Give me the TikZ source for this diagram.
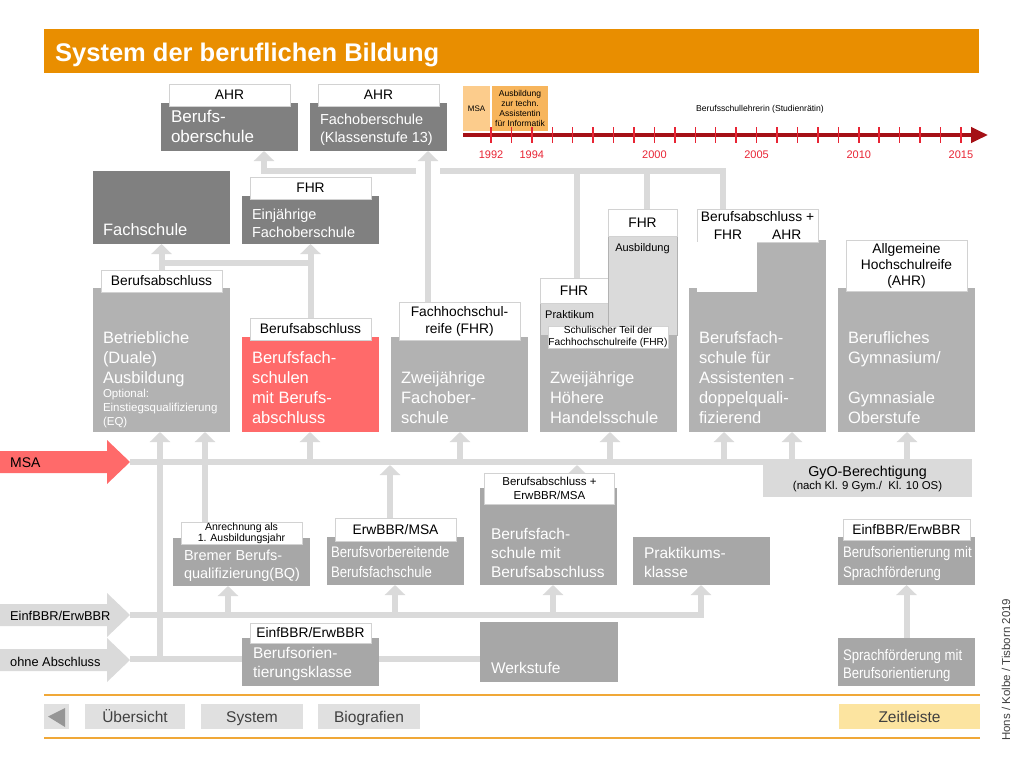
\documentclass[tikz,border=0pt]{standalone}
\usepackage{fontspec}
\setmainfont{Liberation Sans}
\newfontfamily\narrowfont{Liberation Sans}[FakeStretch=0.86]
\usetikzlibrary{arrows.meta,calc,positioning}
\definecolor{TitleClr}{RGB}{233,142,0}
\definecolor{DarkClr}{RGB}{128,128,128}
\definecolor{MidClr}{RGB}{178,178,178}
\definecolor{LowClr}{RGB}{167,167,167}
\definecolor{LineClr}{RGB}{218,218,218}
\definecolor{EdgeClr}{RGB}{210,210,210}
\definecolor{RedClr}{RGB}{255,106,106}
\definecolor{AxisClr}{RGB}{165,16,22}
\definecolor{TickClr}{RGB}{232,36,52}
\definecolor{MsaClr}{RGB}{252,204,140}
\definecolor{AusbClr}{RGB}{247,181,92}
\definecolor{NavClr}{RGB}{224,224,224}
\definecolor{ZeitClr}{RGB}{252,228,160}
\definecolor{RuleClr}{RGB}{240,168,56}
\definecolor{TriClr}{RGB}{150,150,150}
\definecolor{TxtClr}{RGB}{64,64,64}
\newcommand{\fsz}[2]{\fontsize{#1}{#2}\selectfont}
\pgfdeclarelayer{bg}
\pgfsetlayers{bg,main}

\begin{document}
\begin{tikzpicture}[x=1pt,y=-1pt,
  blk/.style={anchor=north west,inner sep=0pt,outer sep=0pt,minimum width=137pt,fill=#1},
  lbl/.style={fill=white,draw=EdgeClr,line width=0.8pt,inner sep=0pt,outer sep=0pt,
    minimum width=121pt,minimum height=22pt,align=center,font=\fsz{13.8}{16}},
  btxt/.style={inner sep=0pt,outer sep=0pt,align=left,text=white,font=\fsz{16.5}{20},
    execute at end node=\strut},
  gline/.style={draw=LineClr,line width=6pt},
  conn/.style={gline,-{Triangle[width=20pt,length=10pt]}},
  navbtn/.style={fill=NavClr,inner sep=0pt,outer sep=0pt,minimum height=25pt,
    text height=13.5pt,text depth=2pt,text=TxtClr,font=\fsz{15.5}{18}}]
\useasboundingbox (0,0) rectangle (1024,768);

% title
\node[blk=TitleClr,minimum width=935pt,minimum height=44pt] (bar) at (44,29) {};
\node[anchor=base west,inner sep=0pt,text=white,font=\bfseries\fsz{25.5}{30}] (title) at (55,62) {System der beruflichen Bildung};

% top row
\node[blk=DarkClr,minimum height=48pt] (bos) at (161,103) {};
\node[lbl,above=-3pt of bos] (bosL) {AHR};
\node[btxt,font=\fsz{17}{20},above right=3pt and 10pt of bos.south west] (bosT) {Berufs-\\oberschule};
\node[blk=DarkClr,minimum height=48pt] (fos) at (310,103) {};
\node[lbl,above=-3pt of fos] (fosL) {AHR};
\node[btxt,font=\fsz{14.5}{18},above right=3.6pt and 10pt of fos.south west] (fosT) {Fachoberschule\\(Klassenstufe 13)};

\node[blk=DarkClr,minimum height=73pt] (fs) at (93,171) {};
\node[btxt,above right=3pt and 10pt of fs.south west] (fsT) {Fachschule};
\node[blk=DarkClr,minimum height=48pt] (ejf) at (242,196) {};
\node[lbl,above=-3pt of ejf] (ejfL) {FHR};
\node[btxt,font=\fsz{14.5}{18},above right=1.6pt and 10pt of ejf.south west] (ejfT) {Einjährige\\Fachoberschule};

% main row
\node[blk=MidClr,minimum height=144pt] (dual) at (93,288) {};
\node[lbl,above=-4pt of dual] (dualL) {Berufsabschluss};
\node[btxt,above right=43pt and 10pt of dual.south west] (dualT) {Betriebliche\\(Duale)\\Ausbildung};
\node[btxt,font=\fsz{11.5}{14},above right=2.8pt and 10pt of dual.south west] (dualS) {Optional:\\Einstiegsqualifizierung\\(EQ)};

\node[blk=RedClr,minimum height=95pt] (bfs) at (242,337) {};
\node[lbl,above=-3pt of bfs] (bfsL) {Berufsabschluss};
\node[btxt,above right=3pt and 10pt of bfs.south west] (bfsT) {Berufsfach-\\schulen\\mit Berufs-\\abschluss};

\node[blk=MidClr,minimum height=95pt] (zfos) at (391,337) {};
\node[lbl,minimum height=38pt,font=\fsz{13.8}{17},above=-3pt of zfos] (zfosL) {Fachhochschul-\\reife (FHR)};
\node[btxt,above right=3pt and 10pt of zfos.south west] (zfosT) {Zweijährige\\Fachober-\\schule};

\node[blk=MidClr,minimum height=97pt] (hhs) at (540,335) {};
\node[blk=LineClr,draw=EdgeClr!85!black,line width=0.6pt,minimum width=68pt,minimum height=32pt] (prak) at (540,303) {};
\node[lbl,minimum width=68pt,minimum height=25pt,above=0pt of prak] (prakL) {FHR};
\node[inner sep=0pt,anchor=north west,font=\fsz{11}{13},below right=7pt and 5pt of prak.north west] (prakT) {Praktikum};
\node[blk=LineClr,draw=EdgeClr!85!black,line width=0.6pt,minimum width=69pt,minimum height=99pt] (ausb) at (608,236) {};
\node[lbl,minimum width=69pt,minimum height=27pt,above=0pt of ausb] (ausbL) {FHR};
\node[inner sep=0pt,font=\fsz{11}{13},below=7pt of ausb.north] (ausbT) {Ausbildung};
\node[lbl,minimum width=120pt,font=\fsz{10.2}{11.5}] (hhsL) at ($(prak.south east)+(0,2)$) {Schulischer Teil der\\Fachhochschulreife (FHR)};
\node[btxt,above right=3pt and 10pt of hhs.south west] (hhsT) {Zweijährige\\Höhere\\Handelsschule};

\node[blk=MidClr,minimum height=144pt] (asst) at (689,288) {};
\node[blk=MidClr,minimum width=69pt,minimum height=49pt] (asstR) at (757,240) {};
\node[lbl,anchor=north west,minimum height=33pt,font=\fsz{13.8}{18}] (asstL) at (697,209) {Berufsabschluss +\\FHR\hspace{30pt}AHR};
\node[anchor=north west,fill=white,inner sep=0pt,minimum width=60pt,minimum height=50pt] (asstW) at (697,241.5) {};
\node[btxt,above right=3pt and 10pt of asst.south west] (asstT) {Berufsfach-\\schule für\\Assistenten -\\doppelquali-\\fizierend};

\node[blk=MidClr,minimum height=144pt] (gym) at (838,288) {};
\node[lbl,minimum height=51pt,above=-3pt of gym] (gymL) {Allgemeine\\Hochschulreife\\(AHR)};
\node[btxt,above right=3pt and 10pt of gym.south west] (gymT) {Berufliches\\Gymnasium/\\[20pt]Gymnasiale\\Oberstufe};

% entry arrows
\fill[RedClr] (0,451) -- (107,451) -- (107,440) -- (130,462) -- (107,484) -- (107,473) -- (0,473) -- cycle;
\node[anchor=west,inner sep=0pt,font=\fsz{14}{16}] (msaT) at (10,463) {MSA};
\fill[LineClr] (0,604) -- (107,604) -- (107,593) -- (130,615) -- (107,637) -- (107,626) -- (0,626) -- cycle;
\node[anchor=west,inner sep=0pt,font=\fsz{12.8}{15}] (einfT) at (10,616) {EinfBBR/ErwBBR};
\fill[LineClr] (0,649) -- (107,649) -- (107,638) -- (130,660) -- (107,682) -- (107,671) -- (0,671) -- cycle;
\node[anchor=west,inner sep=0pt,font=\fsz{12.8}{15}] (ohneT) at (10,662) {ohne Abschluss};
\coordinate (msaTip) at (130,462);
\coordinate (msaEnd) at (972,462);
\coordinate (einfTip) at (130,615);
\coordinate (einfEnd) at (701,615);
\coordinate (ohneTip) at (130,659);

\node[blk=LineClr,minimum width=209pt,minimum height=35pt] (gyo) at (763,462) {};
\node[inner sep=0pt,font=\fsz{14.3}{16},below=4pt of gyo.north] (gyoT) {GyO-Berechtigung};
\node[inner sep=0pt,font=\fsz{11.4}{13},below=1pt of gyoT] (gyoS) {(nach Kl. 9 Gym./\ \ Kl. 10 OS)};

% lower rows
\node[blk=LowClr,minimum height=48pt] (bq) at (173,538) {};
\node[lbl,minimum height=20pt,font=\fsz{10.5}{11.5},above=-6pt of bq] (bqL) {Anrechnung als\\1. Ausbildungsjahr};
\node[btxt,font=\fsz{14.5}{18},above right=2.6pt and 11pt of bq.south west] (bqT) {Bremer Berufs-\\qualifizierung(BQ)};

\node[blk=LowClr,minimum height=48pt] (bvb) at (327,537) {};
\node[lbl,minimum height=23pt,above=-4pt of bvb] (bvbL) {ErwBBR/MSA};
\node[btxt,font=\narrowfont\fsz{15.3}{19.5},above right=2.15pt and 4pt of bvb.south west] (bvbT) {Berufsvorbereitende\\Berufsfachschule};

\node[blk=LowClr,minimum height=97pt] (bfsba) at (480,488) {};
\node[lbl,anchor=north,minimum width=130pt,minimum height=31pt,font=\fsz{11.5}{14}] (bfsbaL) at ($(bfsba.north)+(1,-15)$) {Berufsabschluss +\\ErwBBR/MSA};
\node[btxt,font=\fsz{15.5}{19},above right=2.3pt and 11pt of bfsba.south west] (bfsbaT) {Berufsfach-\\schule mit\\Berufsabschluss};

\node[blk=LowClr,minimum height=48pt] (pk) at (633,537) {};
\node[btxt,font=\fsz{15.5}{19},above right=2.3pt and 11pt of pk.south west] (pkT) {Praktikums-\\klasse};

\node[blk=LowClr,minimum height=48pt] (bo) at (838,537) {};
\node[lbl,minimum width=127pt,minimum height=21pt,above=-3pt of bo] (boL) {EinfBBR/ErwBBR};
\node[btxt,font=\narrowfont\fsz{15.3}{19.5},above right=2.15pt and 5pt of bo.south west] (boT) {Berufsorientierung mit\\Sprachförderung};

\node[blk=LowClr,minimum height=48pt] (spr) at (838,638) {};
\node[btxt,font=\narrowfont\fsz{15.3}{18},above right=2.6pt and 5pt of spr.south west] (sprT) {Sprachförderung mit\\Berufsorientierung};

\node[blk=LowClr,minimum width=138pt,minimum height=60pt] (werk) at (480,622) {};
\node[btxt,font=\fsz{15.5}{19},above right=3.3pt and 11pt of werk.south west] (werkT) {Werkstufe};

\node[blk=LowClr,minimum height=48pt] (bok) at (242,638) {};
\node[lbl,minimum height=20pt,above=-5pt of bok] (bokL) {EinfBBR/ErwBBR};
\node[btxt,font=\fsz{15.5}{19},above right=3.3pt and 11pt of bok.south west] (bokT) {Berufsorien-\\tierungsklasse};

% connectors
\begin{pgfonlayer}{bg}
\coordinate (h1) at (264,171);
\coordinate (h2) at (723,171);
\draw[conn] (asstL.north -| h2) -- (h2) -- (h1) -- (h1 |- bos.south);
\draw[gline] (577,171) -- (577,0 |- prakL.north);
\draw[gline] (647,171) -- (647,0 |- ausbL.north);
\draw[white,line width=24pt] (428,163) -- (428,179);
\draw[conn] (428,0 |- zfosL.north) -- (428,0 |- fos.south);
\draw[conn] (dualL.north) -- (dualL.north |- fs.south);
\draw[gline] (dualL.north |- 0,263) -- (bfsL.north |- 0,263);
\draw[conn] (bfsL.north) -- (bfsL.north |- ejf.south);

\draw[gline] (msaTip) -- (msaEnd);
\foreach \x/\nd in {310/bfs,460/zfos,610/hhs,724/asst,792/asst,907/gym}
  \draw[conn] (\x,462) -- (\x,462 |- \nd.south);
\draw[conn] (205,0 |- bqL.north) -- (205,0 |- dual.south);
\draw[conn] (390,0 |- bvbL.north) -- (390,465);
\draw[conn] (577,482) -- (577,465);

\draw[conn] (einfTip) -- (einfEnd) -- (einfEnd |- pk.south);
\foreach \x/\nd in {228/bq,395/bvb,553/bfsba}
  \draw[conn] (\x,615) -- (\x,615 |- \nd.south);
\draw[gline] (ohneTip) -- (ohneTip -| werk.west);
\draw[conn] (160,659) -- (160,0 |- dual.south);
\draw[conn] (spr.north) -- (bo.south);
\end{pgfonlayer}

% timeline
\node[blk=MsaClr,minimum width=27pt,minimum height=45pt,font=\fsz{8}{10}] (tlMsa) at (463,86) {};
\node[inner sep=0pt,font=\fsz{8}{10}] at (tlMsa.center) (tlMsaT) {MSA};
\node[blk=AusbClr,minimum width=56pt,minimum height=45pt] (tlAusb) at (492,86) {};
\node[inner sep=0pt,align=center,font=\fsz{8.5}{10.3}] (tlAusbT) at (tlAusb.center) {Ausbildung\\zur techn.\\Assistentin\\für Informatik};
\node[inner sep=0pt,font=\fsz{8.6}{10}] (tlJob) at (760,109) {Berufsschullehrerin (Studienrätin)};
\coordinate (tl0) at (463,135);
\coordinate (tl1) at (988,135);
\draw[AxisClr,line width=4pt,-{Triangle[width=15pt,length=17pt]}] (tl0) -- (tl1);
\foreach \i in {0,...,23}
  \draw[TickClr,line width=1.5pt] ({491+20.43*\i},127) -- ({491+20.43*\i},143);
\foreach \yr in {1992,1994,2000,2005,2010,2015}
  \node[inner sep=0pt,font=\fsz{11}{13},text=TickClr] (yr\yr) at ({491+20.43*(\yr-1992)},155) {\yr};

% navigation
\draw[RuleClr,line width=1.5pt] (44,695) -- (980,695);
\draw[RuleClr,line width=1.5pt] (44,738) -- (980,738);
\node[navbtn,minimum width=25pt] (back) at (56.5,716.5) {};
\fill[TriClr] ($(back.north east)+(-4,4)$) -- ($(back.south east)+(-4,-2)$) -- ($(back.west)+(4,0)$) -- cycle;
\node[navbtn,minimum width=100pt] (ueb) at (135,716.5) {Übersicht};
\node[navbtn,minimum width=102pt,right=16pt of ueb] (sys) {System};
\node[navbtn,minimum width=102pt,right=15pt of sys] (bio) {Biografien};
\node[navbtn,minimum width=141pt,fill=ZeitClr] (zeit) at (909.5,716.5) {Zeitleiste};
\node[rotate=90,anchor=west,inner sep=0pt,font=\fsz{11.5}{13},text=TxtClr] (credit) at (1006,741) {Hons / Kolbe / Tisborn 2019};
\end{tikzpicture}
\end{document}
